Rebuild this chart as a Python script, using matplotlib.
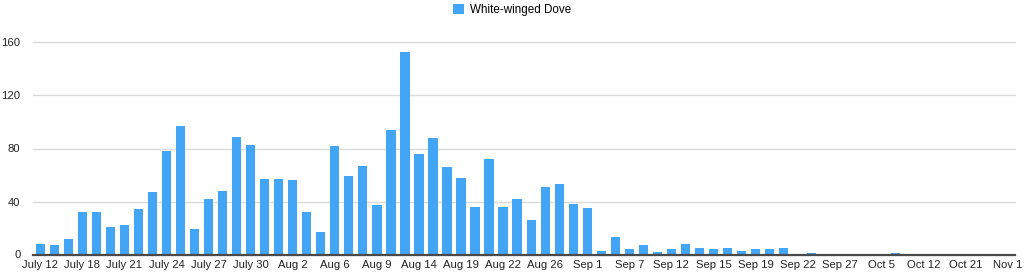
import matplotlib.pyplot as plt

plt.rcParams['font.family'] = ['Liberation Sans', 'DejaVu Sans']

# one bar per survey date, only every third date is labelled
counts = [8, 7, 12, 32, 32, 21, 22, 34, 47, 78,
          97, 19, 42, 48, 89, 83, 57, 57, 56, 32,
          17, 82, 59, 67, 37, 94, 153, 76, 88, 66,
          58, 36, 72, 36, 42, 26, 51, 53, 38, 35,
          3, 13, 4, 7, 2, 4, 8, 5, 4, 5,
          3, 4, 4, 5, 0, 1, 0, 0, 0, 0,
          0, 1, 0, 0, 0, 0, 0, 0, 0, 0]
tick_labels = ['July 12', 'July 18', 'July 21', 'July 24', 'July 27', 'July 30',
               'Aug 2', 'Aug 6', 'Aug 9', 'Aug 14', 'Aug 19', 'Aug 22',
               'Aug 26', 'Sep 1', 'Sep 7', 'Sep 12', 'Sep 15', 'Sep 19',
               'Sep 22', 'Sep 27', 'Oct 5', 'Oct 12', 'Oct 21', 'Nov 1']
series_name = 'White-winged Dove'
y_ticks = [0, 40, 80, 120, 160]

fig = plt.figure(figsize=(10.24, 2.74), dpi=100)
ax = fig.add_axes([33 / 1024, 19.5 / 274, 982 / 1024, 212 / 274])

x = list(range(len(counts)))
ax.bar(x, counts, width=0.66, color='#42a5f5', zorder=2, label=series_name)

ax.set_xlim(-0.52, 69.5)
ax.set_ylim(0, 160)
ax.set_yticks(y_ticks)
ax.set_xticks(x[::3])
ax.set_xticklabels(tick_labels)
ax.grid(axis='y', color='#dadada', linewidth=1, zorder=0)
for gl in ax.get_ygridlines():
    gl.set_clip_on(False)

for s in ['top', 'right', 'left']:
    ax.spines[s].set_visible(False)
ax.spines['bottom'].set_color('#4a4a4a')
ax.spines['bottom'].set_linewidth(1.6)
ax.spines['bottom'].set_zorder(3)
ax.tick_params(axis='x', length=0, pad=4, labelsize=8.1, colors='#222222')
ax.tick_params(axis='y', length=0, pad=9, labelsize=8.1, colors='#222222')

fig.legend(loc='upper center', bbox_to_anchor=(0.5, 0.995), frameon=False,
           fontsize=8.4, handlelength=0.95, handleheight=0.95, handletextpad=0.55,
           borderaxespad=0.0, borderpad=0.2)

fig.savefig('out.png', dpi=100)
